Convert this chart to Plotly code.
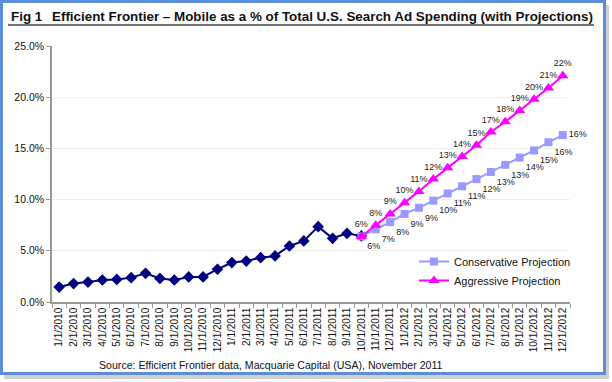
import plotly.graph_objects as go

# ---- data ----
months = [f"{m}/1/{y}" for y in (2010, 2011, 2012) for m in range(1, 13)]

hist_months = months[:22]  # 1/1/2010 .. 10/1/2011
hist_values = [1.46, 1.80, 1.95, 2.15, 2.20, 2.38, 2.80, 2.30, 2.15, 2.45,
               2.45, 3.20, 3.85, 4.00, 4.33, 4.50, 5.47, 5.96, 7.36, 6.22,
               6.70, 6.45]

proj_months = months[21:]  # 10/1/2011 .. 12/1/2012
conservative = [6.4, 7.1, 7.8, 8.6, 9.2, 9.9, 10.6, 11.3, 12.0, 12.7,
                13.4, 14.1, 14.8, 15.6, 16.3]
aggressive = [6.4, 7.5, 8.6, 9.7, 10.8, 12.0, 13.1, 14.2, 15.3, 16.6,
              17.6, 18.7, 19.8, 20.9, 22.1]

y_ticks = [0, 5, 10, 15, 20, 25]

# ---- layout geometry (pixels) ----
W, H = 612, 382
L, R, T, B = 52, 570, 46, 302   # plot area


def px(x):
    return (x - L) / (R - L)


def py(y):
    return (B - y) / (B - T)


FONT = "Liberation Sans, Arial, sans-serif"
NAVY = "#000080"
CONS = "#9999FF"
AGGR = "#FF00FF"

fig = go.Figure()

fig.add_trace(go.Scatter(
    x=hist_months, y=hist_values, mode="lines+markers",
    line=dict(color=NAVY, width=2),
    marker=dict(symbol="diamond", size=9, color=NAVY),
    showlegend=False, name="Actual", cliponaxis=False))

cons_pos = ["bottom right"] * (len(conservative) - 1) + ["middle right"]
fig.add_trace(go.Scatter(
    x=proj_months, y=conservative, mode="lines+markers+text",
    name="Conservative Projection",
    line=dict(color=CONS, width=2),
    marker=dict(symbol="square", size=8, color=CONS),
    texttemplate="%{y:.0f}%", textposition=cons_pos, cliponaxis=False,
    textfont=dict(family=FONT, size=9, color="#222")))

fig.add_trace(go.Scatter(
    x=proj_months, y=aggressive, mode="lines+markers+text",
    name="Aggressive Projection",
    line=dict(color=AGGR, width=2),
    marker=dict(symbol="triangle-up", size=10, color=AGGR),
    texttemplate="%{y:.0f}%", textposition="top center", cliponaxis=False,
    textfont=dict(family=FONT, size=9, color="#222")))

shapes = [
    # shadow
    dict(type="rect", xref="paper", yref="paper",
         x0=px(4), x1=px(609), y0=py(5), y1=py(379),
         fillcolor="rgba(0,0,0,0.18)", line=dict(width=0), layer="below"),
    # white card
    dict(type="rect", xref="paper", yref="paper",
         x0=px(1.5), x1=px(604.5), y0=py(1.5), y1=py(373.5),
         fillcolor="white", line=dict(color="#5B8ED6", width=3), layer="below"),
    # title underline
    dict(type="line", xref="paper", yref="paper",
         x0=px(8), x1=px(594), y0=py(25), y1=py(25),
         line=dict(color="#444", width=1.5)),
]

annotations = [
    dict(text="<b>Fig 1</b>", xref="paper", yref="paper",
         x=px(9), y=py(16), xanchor="left", yanchor="middle", showarrow=False,
         font=dict(family=FONT, size=13.4, color="#111")),
    dict(text="<b>Efficient Frontier \u2013 Mobile as a % of Total U.S. Search Ad Spending (with Projections)</b>",
         xref="paper", yref="paper", x=px(50), y=py(16), xanchor="left",
         yanchor="middle", showarrow=False,
         font=dict(family=FONT, size=13.4, color="#111")),
    dict(text="Source: Efficient Frontier data, Macquarie Capital (USA), November 2011",
         xref="paper", yref="paper", x=px(271), y=py(365), xanchor="center",
         yanchor="middle", showarrow=False,
         font=dict(family=FONT, size=10.6, color="#111")),
]

fig.update_layout(
    width=W, height=H,
    margin=dict(l=L, r=W - R, t=T, b=H - B, pad=0),
    paper_bgcolor="#ffffff", plot_bgcolor="rgba(0,0,0,0)",
    font=dict(family=FONT, size=10, color="#111"),
    shapes=shapes, annotations=annotations,
    legend=dict(x=px(414), y=py(247), xanchor="left", yanchor="top",
                bgcolor="rgba(0,0,0,0)", font=dict(family=FONT, size=11, color="#111"),
                tracegroupgap=0, itemwidth=30),
)

fig.update_xaxes(
    type="category", categoryorder="array", categoryarray=months,
    range=[-0.5, len(months) - 0.5],
    tickangle=-90, tickfont=dict(family=FONT, size=10, color="#111"),
    showline=True, linecolor="#999", linewidth=1.5,
    ticks="outside", ticklen=4, tickcolor="#999", tickson="boundaries",
    showgrid=False, zeroline=False)

fig.update_yaxes(
    range=[0, 25], tickvals=y_ticks, ticktext=[f"{v:.1f}%" for v in y_ticks],
    tickfont=dict(family=FONT, size=10.5, color="#111"),
    showline=True, linecolor="#999", linewidth=1.5,
    ticks="outside", ticklen=4, tickcolor="#999",
    showgrid=True, gridcolor="#f0f0f0", gridwidth=1, zeroline=False)

fig.write_html("out.html", config={"displayModeBar": False},
               post_script="document.body.style.margin='0';document.body.style.padding='0';")
